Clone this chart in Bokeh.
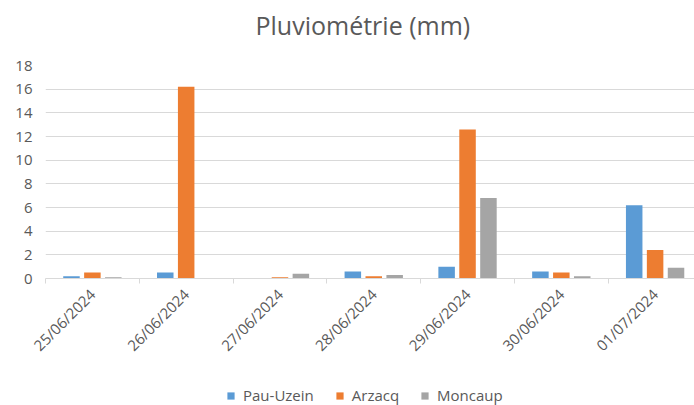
from bokeh.plotting import figure
from bokeh.models import (ColumnDataSource, Range1d, FixedTicker, Legend, LegendItem, Title)
from bokeh.layouts import column
from bokeh.transform import dodge
from bokeh.embed import file_html
from bokeh.resources import INLINE
import math

# ---- data ----
dates = ["25/06/2024", "26/06/2024", "27/06/2024", "28/06/2024",
         "29/06/2024", "30/06/2024", "01/07/2024"]
pau_uzein = [0.2, 0.5, 0.0, 0.6, 1.0, 0.6, 6.2]
arzacq = [0.5, 16.2, 0.1, 0.2, 12.6, 0.5, 2.4]
moncaup = [0.1, 0.0, 0.4, 0.3, 6.8, 0.2, 0.9]
series_names = ["Pau-Uzein", "Arzacq", "Moncaup"]
colors = ["#5B9BD5", "#ED7D31", "#A5A5A5"]
y_ticks = list(range(0, 20, 2))

centers = [i + 0.5 for i in range(len(dates))]
bounds = list(range(len(dates) + 1))

src = ColumnDataSource(dict(x=centers, pau=pau_uzein, arz=arzacq, mon=moncaup))

TXT = "#595959"
GRID = "#D9D9D9"
FONT = "Open Sans"

p = figure(width=694, height=385, output_backend="svg", toolbar_location=None,
           x_range=Range1d(0, 6.92), y_range=Range1d(0, 18),
           min_border_left=45, min_border_right=0, min_border_top=65,
           min_border_bottom=107, outline_line_color=None,
           background_fill_color="white", border_fill_color="white")

p.title.text = "Pluviométrie (mm)"
p.title.align = "left"
p.title.offset = 210
p.title.text_font = FONT
p.title.text_font_size = "25px"
p.title.text_font_style = "normal"
p.title.text_color = TXT
p.title.standoff = 10

# small empty spacer between the title and the plot area
p.add_layout(Title(text=" ", text_font_size="16px", standoff=0), "above")

offs = [-0.223, 0.0, 0.223]
cols = ["pau", "arz", "mon"]
for c, o, col in zip(cols, offs, colors):
    p.vbar(x=dodge("x", o, range=p.x_range), top=c, width=0.176, bottom=0,
           source=src, fill_color=col, line_color=None)

# y axis
p.yaxis.ticker = FixedTicker(ticks=y_ticks)
p.yaxis.axis_line_color = None
p.yaxis.major_tick_line_color = None
p.yaxis.minor_tick_line_color = None
p.yaxis.major_tick_out = 0
p.yaxis.major_tick_in = 0
p.yaxis.major_label_standoff = 13
p.yaxis.major_label_text_font = FONT
p.yaxis.major_label_text_font_size = "15px"
p.yaxis.major_label_text_color = TXT

# x axis
p.xaxis.ticker = FixedTicker(ticks=centers, minor_ticks=bounds)
p.xaxis.major_label_overrides = {c: d for c, d in zip(centers, dates)}
p.xaxis.axis_line_color = GRID
p.xaxis.major_tick_line_color = None
p.xaxis.major_tick_out = 0
p.xaxis.major_tick_in = 0
p.xaxis.minor_tick_line_color = GRID
p.xaxis.minor_tick_out = 5
p.xaxis.minor_tick_in = 0
p.xaxis.major_label_orientation = math.pi / 4
p.xaxis.major_label_standoff = 8
p.xaxis.major_label_text_font = FONT
p.xaxis.major_label_text_font_size = "15px"
p.xaxis.major_label_text_color = TXT

p.xgrid.grid_line_color = None
p.ygrid.grid_line_color = GRID
p.ygrid.ticker = FixedTicker(ticks=y_ticks)

# legend strip below the chart
lg = figure(width=694, height=20, output_backend="svg", toolbar_location=None,
            x_range=Range1d(0, 1), y_range=Range1d(0, 1),
            x_axis_type=None, y_axis_type=None, min_border=0,
            outline_line_color=None, background_fill_color="white",
            border_fill_color="white")
lg.xgrid.visible = False
lg.ygrid.visible = False
lrends = [lg.vbar(x=[5], top=[1], width=0.1, fill_color=col, line_color=None)
          for col in colors]
legend = Legend(items=[LegendItem(label=n, renderers=[r]) for n, r in zip(series_names, lrends)],
                orientation="horizontal", location=(181, 0),
                border_line_color=None, background_fill_alpha=0,
                padding=0, margin=0, spacing=21,
                glyph_width=9, glyph_height=9, label_standoff=8,
                label_text_font=FONT, label_text_font_size="15px",
                label_text_color=TXT)
lg.add_layout(legend, "center")

layout = column(p, lg, spacing=0)
open("out.html", "w").write(file_html(layout, INLINE))
